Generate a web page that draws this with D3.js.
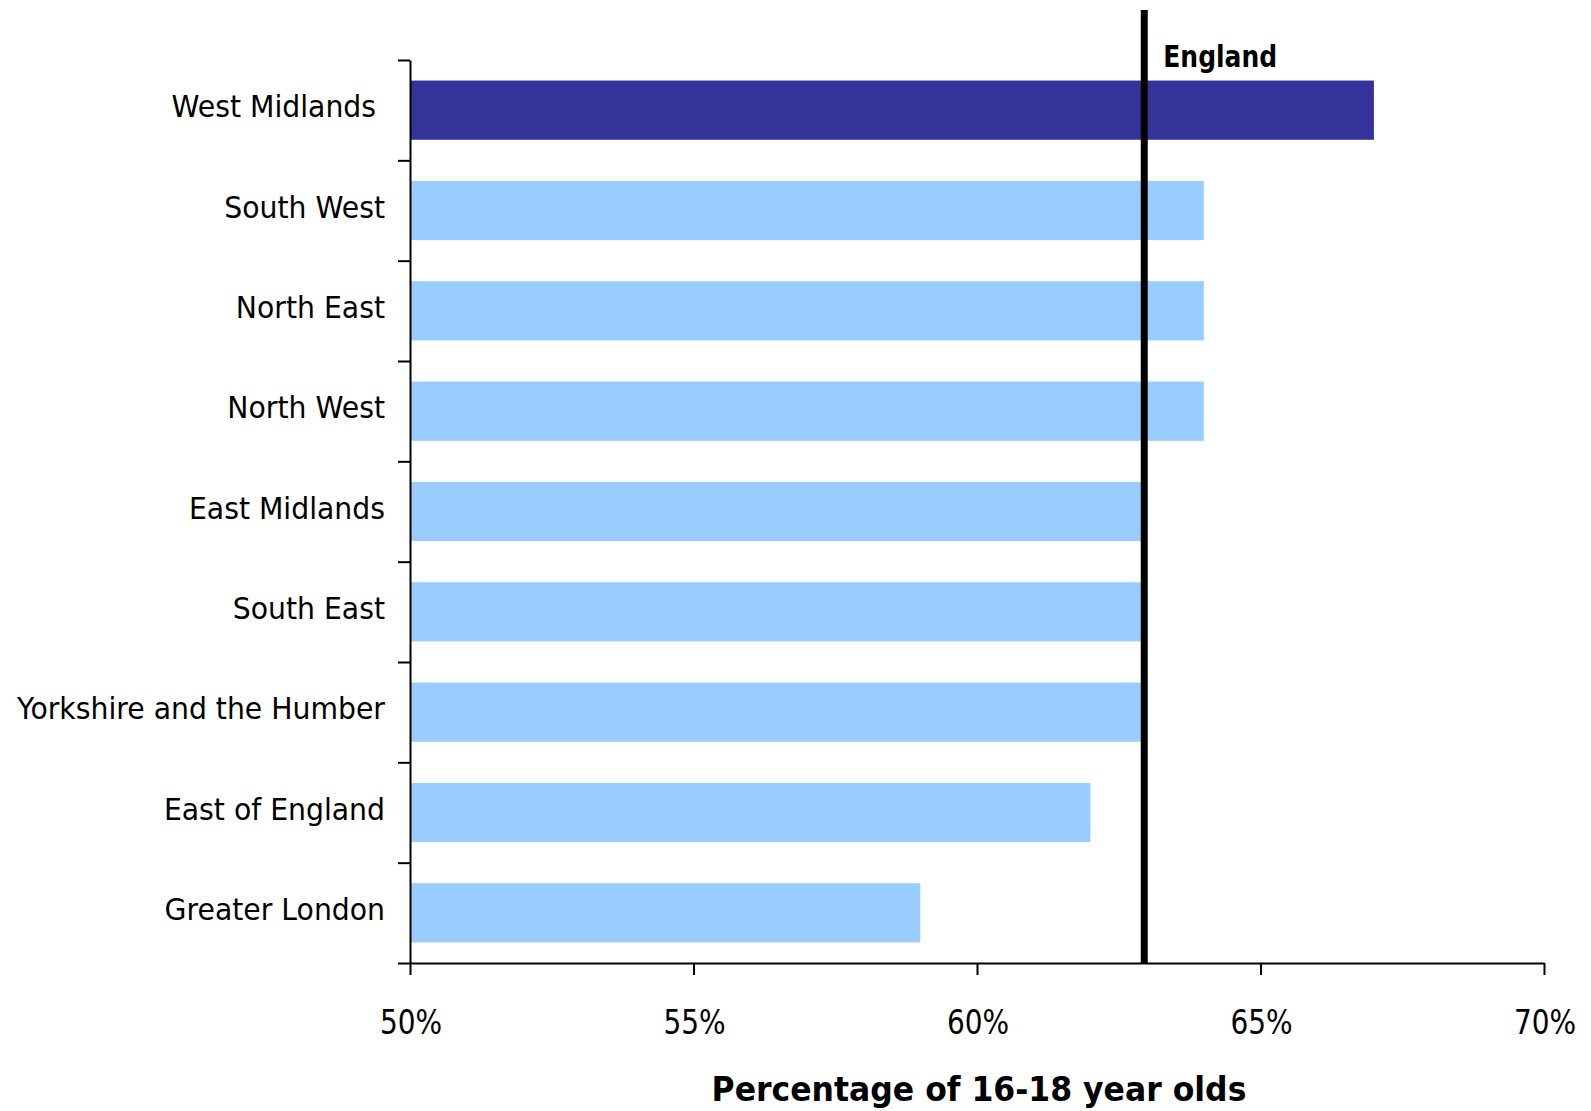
<!DOCTYPE html>
<html>
<head>
<meta charset="utf-8">
<script src="https://cdn.jsdelivr.net/npm/d3@7"></script>
<style>
  html, body { margin: 0; padding: 0; background: #fff; }
  svg { display: block; }
  text { font-family: "DejaVu Sans", Verdana, sans-serif; fill: #000; white-space: pre; }
</style>
</head>
<body>
<svg id="chart" width="1591" height="1111"></svg>
<script>
const categories = ["West Midlands ", "South West", "North East", "North West", "East Midlands",
  "South East", "Yorkshire and the Humber", "East of England", "Greater London"];
const values = [67, 64, 64, 64, 63, 63, 63, 62, 59];
const highlight = "West Midlands ";
const englandValue = 62.95;
const englandLabel = "England";
const xTicks = [50, 55, 60, 65, 70];
const xTitle = "Percentage of 16-18 year olds";

(function () {
const svg = d3.select("#chart");
const plotL = 410, plotR = 1544, plotT = 60, plotB = 963;

const x = d3.scaleLinear().domain([50, 70]).range([plotL, plotR]);
const y = d3.scaleBand().domain(categories).range([plotT, plotB])
  .paddingInner(0.41).paddingOuter(0.205);
const yIdx = d3.scaleLinear().domain([0, categories.length]).range([plotT, plotB]);

// bars
svg.append("g").selectAll("rect").data(categories).join("rect")
  .attr("x", x(50))
  .attr("y", d => y(d))
  .attr("width", (d, i) => x(values[i]) - x(50))
  .attr("height", y.bandwidth())
  .attr("fill", d => d === highlight ? "#333399" : "#99CCFF");

// y axis (ticks at band boundaries)
const yAxis = svg.append("g").attr("transform", `translate(${plotL},0)`)
  .call(d3.axisLeft(yIdx).tickValues(d3.range(0, categories.length + 1))
    .tickFormat("").tickSize(12).tickSizeOuter(0));
yAxis.select(".domain").attr("stroke", "#000").attr("stroke-width", 2);
yAxis.selectAll(".tick line").attr("stroke", "#000").attr("stroke-width", 2);

// x axis
const xAxis = svg.append("g").attr("transform", `translate(0,${plotB})`)
  .call(d3.axisBottom(x).tickValues(xTicks).tickFormat("").tickSize(12).tickSizeOuter(0));
xAxis.select(".domain").attr("stroke", "#000").attr("stroke-width", 2);
xAxis.selectAll(".tick line").attr("stroke", "#000").attr("stroke-width", 2);

// x tick labels
svg.append("g").selectAll("text").data(xTicks).join("text")
  .attr("transform", d => `translate(${x(d) + 1},1034) scale(1,1.2)`)
  .attr("text-anchor", "middle")
  .style("font-size", "28px")
  .text(d => d + "%");

// category labels
svg.append("g").selectAll("text").data(categories).join("text")
  .attr("transform", d => `translate(385,${y(d) + y.bandwidth() / 2 + 7}) scale(1,1.08)`)
  .attr("text-anchor", "end")
  .style("font-size", "28.3px")
  .text(d => d);

// England reference line
svg.append("line")
  .attr("x1", x(englandValue)).attr("x2", x(englandValue))
  .attr("y1", 10).attr("y2", plotB)
  .attr("stroke", "#000").attr("stroke-width", 7);

svg.append("text")
  .attr("transform", `translate(${x(englandValue) + 19},66.5) scale(1,1.2)`)
  .style("font-size", "25px").style("font-weight", "bold")
  .text(englandLabel);

// x axis title
svg.append("text")
  .attr("transform", `translate(${(plotL + plotR) / 2 + 2},1101) scale(1,1.08)`)
  .attr("text-anchor", "middle")
  .style("font-size", "31.5px").style("font-weight", "bold")
  .text(xTitle);
})();
</script>
</body>
</html>
